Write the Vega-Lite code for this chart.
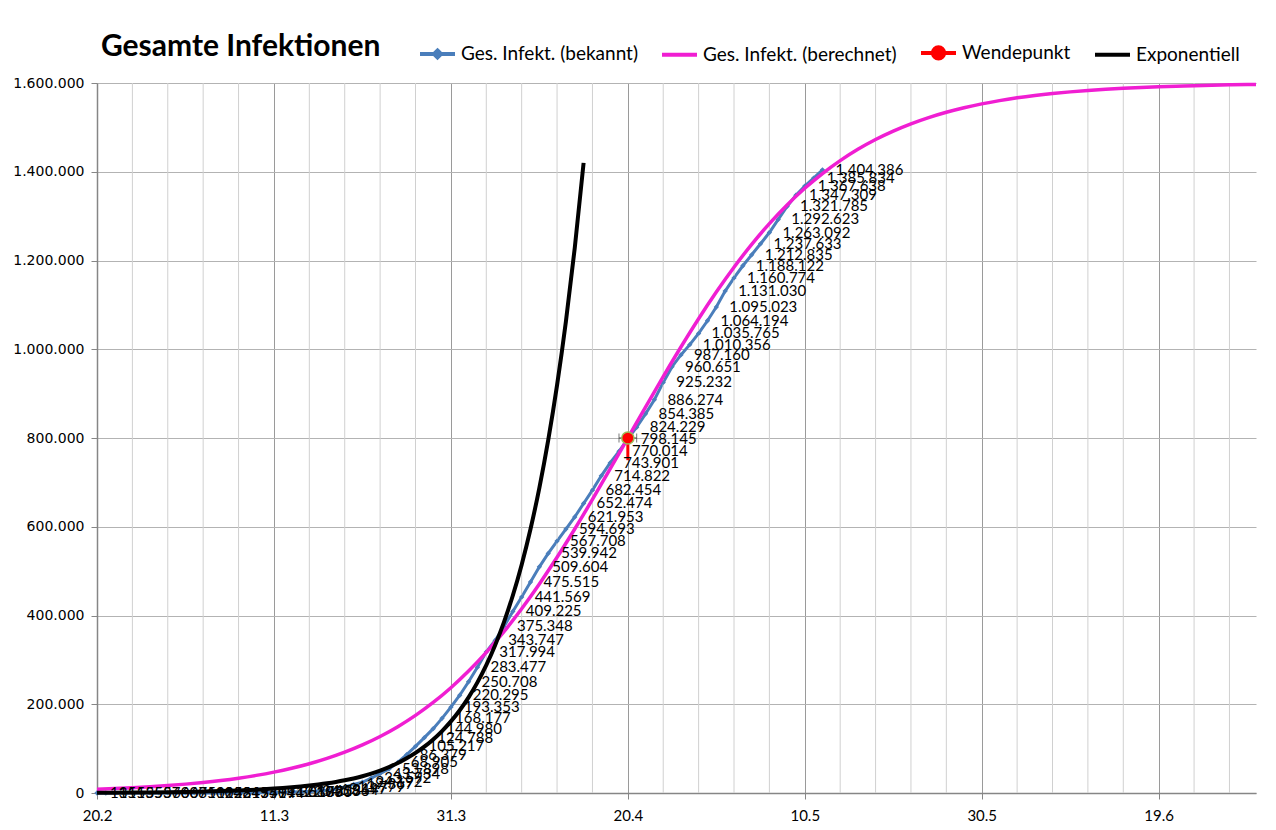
{
  "$schema": "https://vega.github.io/schema/vega-lite/v6.json",
  "width": 1159,
  "height": 710,
  "autosize": {"type": "none"},
  "padding": {"left": 97, "top": 83, "right": 20, "bottom": 37},
  "background": "white",
  "config": {
    "locale": {"number": {"decimal": ",", "thousands": ".", "grouping": [3], "currency": ["", " €"]}},
    "view": {"stroke": null},
    "font": "Lato"
  },
  "title": {"text": "Gesamte Infektionen", "anchor": "start", "frame": "group", "font": "Lato", "fontSize": 30, "fontWeight": "bold", "color": "#000000", "dx": 4, "offset": -29},
  "resolve": {"axis": {"x": "independent"}},
  "datasets": {
    "minorgrid": [
      {"date": "2020-02-24"}, {"date": "2020-02-28"}, {"date": "2020-03-03"}, {"date": "2020-03-07"},
      {"date": "2020-03-15"}, {"date": "2020-03-19"}, {"date": "2020-03-23"}, {"date": "2020-03-27"},
      {"date": "2020-04-04"}, {"date": "2020-04-08"}, {"date": "2020-04-12"}, {"date": "2020-04-16"},
      {"date": "2020-04-24"}, {"date": "2020-04-28"}, {"date": "2020-05-02"}, {"date": "2020-05-06"},
      {"date": "2020-05-14"}, {"date": "2020-05-18"}, {"date": "2020-05-22"}, {"date": "2020-05-26"},
      {"date": "2020-06-03"}, {"date": "2020-06-07"}, {"date": "2020-06-11"}, {"date": "2020-06-15"},
      {"date": "2020-06-23"}, {"date": "2020-06-27"}
    ],
    "known": [
      {"date": "2020-02-20", "value": 13}, {"date": "2020-02-21", "value": 15}, {"date": "2020-02-22", "value": 15}, {"date": "2020-02-23", "value": 15},
      {"date": "2020-02-24", "value": 35}, {"date": "2020-02-25", "value": 53}, {"date": "2020-02-26", "value": 57}, {"date": "2020-02-27", "value": 60},
      {"date": "2020-02-28", "value": 60}, {"date": "2020-02-29", "value": 68}, {"date": "2020-03-01", "value": 75}, {"date": "2020-03-02", "value": 100},
      {"date": "2020-03-03", "value": 124}, {"date": "2020-03-04", "value": 158}, {"date": "2020-03-05", "value": 221}, {"date": "2020-03-06", "value": 319},
      {"date": "2020-03-07", "value": 435}, {"date": "2020-03-08", "value": 541}, {"date": "2020-03-09", "value": 704}, {"date": "2020-03-10", "value": 994},
      {"date": "2020-03-11", "value": 1301}, {"date": "2020-03-12", "value": 1630}, {"date": "2020-03-13", "value": 2183}, {"date": "2020-03-14", "value": 2770},
      {"date": "2020-03-15", "value": 3613}, {"date": "2020-03-16", "value": 4596}, {"date": "2020-03-17", "value": 6344}, {"date": "2020-03-18", "value": 9197},
      {"date": "2020-03-19", "value": 13779}, {"date": "2020-03-20", "value": 19367}, {"date": "2020-03-21", "value": 24192}, {"date": "2020-03-22", "value": 33592},
      {"date": "2020-03-23", "value": 43734}, {"date": "2020-03-24", "value": 53898}, {"date": "2020-03-25", "value": 68905}, {"date": "2020-03-26", "value": 86379},
      {"date": "2020-03-27", "value": 105217}, {"date": "2020-03-28", "value": 124788}, {"date": "2020-03-29", "value": 144980}, {"date": "2020-03-30", "value": 168177},
      {"date": "2020-03-31", "value": 193353}, {"date": "2020-04-01", "value": 220295}, {"date": "2020-04-02", "value": 250708}, {"date": "2020-04-03", "value": 283477},
      {"date": "2020-04-04", "value": 317994}, {"date": "2020-04-05", "value": 343747}, {"date": "2020-04-06", "value": 375348}, {"date": "2020-04-07", "value": 409225},
      {"date": "2020-04-08", "value": 441569}, {"date": "2020-04-09", "value": 475515}, {"date": "2020-04-10", "value": 509604}, {"date": "2020-04-11", "value": 539942},
      {"date": "2020-04-12", "value": 567708}, {"date": "2020-04-13", "value": 594693}, {"date": "2020-04-14", "value": 621953}, {"date": "2020-04-15", "value": 652474},
      {"date": "2020-04-16", "value": 682454}, {"date": "2020-04-17", "value": 714822}, {"date": "2020-04-18", "value": 743901}, {"date": "2020-04-19", "value": 770014},
      {"date": "2020-04-20", "value": 798145}, {"date": "2020-04-21", "value": 824229}, {"date": "2020-04-22", "value": 854385}, {"date": "2020-04-23", "value": 886274},
      {"date": "2020-04-24", "value": 925232}, {"date": "2020-04-25", "value": 960651}, {"date": "2020-04-26", "value": 987160}, {"date": "2020-04-27", "value": 1010356},
      {"date": "2020-04-28", "value": 1035765}, {"date": "2020-04-29", "value": 1064194}, {"date": "2020-04-30", "value": 1095023}, {"date": "2020-05-01", "value": 1131030},
      {"date": "2020-05-02", "value": 1160774}, {"date": "2020-05-03", "value": 1188122}, {"date": "2020-05-04", "value": 1212835}, {"date": "2020-05-05", "value": 1237633},
      {"date": "2020-05-06", "value": 1263092}, {"date": "2020-05-07", "value": 1292623}, {"date": "2020-05-08", "value": 1321785}, {"date": "2020-05-09", "value": 1347309},
      {"date": "2020-05-10", "value": 1367638}, {"date": "2020-05-11", "value": 1385834}, {"date": "2020-05-12", "value": 1404386}
    ],
    "calc": [
      {"date": "2020-02-20", "value": 8402}, {"date": "2020-02-22", "value": 9997}, {"date": "2020-02-24", "value": 11892}, {"date": "2020-02-26", "value": 14143},
      {"date": "2020-02-28", "value": 16816}, {"date": "2020-03-01", "value": 19988}, {"date": "2020-03-03", "value": 23749}, {"date": "2020-03-05", "value": 28206},
      {"date": "2020-03-07", "value": 33481}, {"date": "2020-03-09", "value": 39717}, {"date": "2020-03-11", "value": 47080}, {"date": "2020-03-13", "value": 55759},
      {"date": "2020-03-15", "value": 65971}, {"date": "2020-03-17", "value": 77958}, {"date": "2020-03-19", "value": 91991}, {"date": "2020-03-21", "value": 108372},
      {"date": "2020-03-23", "value": 127429}, {"date": "2020-03-25", "value": 149491}, {"date": "2020-03-27", "value": 174924}, {"date": "2020-03-29", "value": 204075},
      {"date": "2020-03-31", "value": 237275}, {"date": "2020-04-02", "value": 274813}, {"date": "2020-04-04", "value": 316904}, {"date": "2020-04-06", "value": 363682},
      {"date": "2020-04-08", "value": 415126}, {"date": "2020-04-10", "value": 471075}, {"date": "2020-04-12", "value": 531185}, {"date": "2020-04-14", "value": 594919},
      {"date": "2020-04-16", "value": 661567}, {"date": "2020-04-18", "value": 730257}, {"date": "2020-04-20", "value": 800000}, {"date": "2020-04-22", "value": 869743},
      {"date": "2020-04-24", "value": 938433}, {"date": "2020-04-26", "value": 1005081}, {"date": "2020-04-28", "value": 1068815}, {"date": "2020-04-30", "value": 1128925},
      {"date": "2020-05-02", "value": 1184874}, {"date": "2020-05-04", "value": 1236318}, {"date": "2020-05-06", "value": 1283096}, {"date": "2020-05-08", "value": 1325187},
      {"date": "2020-05-10", "value": 1362725}, {"date": "2020-05-12", "value": 1395925}, {"date": "2020-05-14", "value": 1425076}, {"date": "2020-05-16", "value": 1450509},
      {"date": "2020-05-18", "value": 1472571}, {"date": "2020-05-20", "value": 1491628}, {"date": "2020-05-22", "value": 1508009}, {"date": "2020-05-24", "value": 1522042},
      {"date": "2020-05-26", "value": 1534029}, {"date": "2020-05-28", "value": 1544241}, {"date": "2020-05-30", "value": 1552920}, {"date": "2020-06-01", "value": 1560283},
      {"date": "2020-06-03", "value": 1566519}, {"date": "2020-06-05", "value": 1571794}, {"date": "2020-06-07", "value": 1576251}, {"date": "2020-06-09", "value": 1580012},
      {"date": "2020-06-11", "value": 1583184}, {"date": "2020-06-13", "value": 1585857}, {"date": "2020-06-15", "value": 1588108}, {"date": "2020-06-17", "value": 1590003},
      {"date": "2020-06-19", "value": 1591598}, {"date": "2020-06-21", "value": 1592940}, {"date": "2020-06-23", "value": 1594068}, {"date": "2020-06-25", "value": 1595016},
      {"date": "2020-06-27", "value": 1595813}, {"date": "2020-06-29", "value": 1596483}, {"date": "2020-06-30", "value": 1596777}
    ],
    "expo": [
      {"date": "2020-02-20", "value": 600}, {"date": "2020-02-22", "value": 800}, {"date": "2020-02-24", "value": 1050}, {"date": "2020-02-26", "value": 1400},
      {"date": "2020-02-28", "value": 1850}, {"date": "2020-03-01", "value": 2450}, {"date": "2020-03-03", "value": 3250}, {"date": "2020-03-05", "value": 4300},
      {"date": "2020-03-07", "value": 5700}, {"date": "2020-03-09", "value": 7500}, {"date": "2020-03-11", "value": 9900}, {"date": "2020-03-12", "value": 11300},
      {"date": "2020-03-13", "value": 12900}, {"date": "2020-03-14", "value": 14700}, {"date": "2020-03-15", "value": 16800}, {"date": "2020-03-16", "value": 19200},
      {"date": "2020-03-17", "value": 21900}, {"date": "2020-03-18", "value": 25000}, {"date": "2020-03-19", "value": 28600}, {"date": "2020-03-20", "value": 32733},
      {"date": "2020-03-21", "value": 37840}, {"date": "2020-03-22", "value": 43745}, {"date": "2020-03-23", "value": 50571}, {"date": "2020-03-24", "value": 58462},
      {"date": "2020-03-25", "value": 67585}, {"date": "2020-03-26", "value": 78131}, {"date": "2020-03-27", "value": 90322}, {"date": "2020-03-28", "value": 104416},
      {"date": "2020-03-29", "value": 120709}, {"date": "2020-03-30", "value": 139545}, {"date": "2020-03-31", "value": 161320}, {"date": "2020-04-01", "value": 186492},
      {"date": "2020-04-02", "value": 215593}, {"date": "2020-04-03", "value": 249234}, {"date": "2020-04-04", "value": 288125}, {"date": "2020-04-05", "value": 333085},
      {"date": "2020-04-06", "value": 385060}, {"date": "2020-04-07", "value": 445145}, {"date": "2020-04-08", "value": 514606}, {"date": "2020-04-09", "value": 594905},
      {"date": "2020-04-10", "value": 687734}, {"date": "2020-04-11", "value": 795048}, {"date": "2020-04-12", "value": 919108}, {"date": "2020-04-13", "value": 1062527},
      {"date": "2020-04-14", "value": 1228328}, {"date": "2020-04-15", "value": 1420000}
    ],
    "wende": [
      {"date": "2020-04-20", "value": 800000, "date_lo": "2020-04-19", "date_hi": "2020-04-21", "value_lo": 750000}
    ]
  },
  "layer": [
    {
      "data": {"name": "known"},
      "mark": {"type": "line", "strokeWidth": 3, "interpolate": "linear"},
      "encoding": {
        "x": {
          "field": "date", "type": "temporal",
          "scale": {"type": "utc", "domain": [1582156800000, 1593475200000]},
          "axis": {
            "title": null,
            "orient": "bottom",
            "values": [1582156800000, 1583884800000, 1585612800000, 1587340800000, 1589068800000, 1590796800000, 1592524800000],
            "format": "%-d.%-m",
            "grid": true,
            "gridColor": "#9a9a9a",
            "gridWidth": 1,
            "ticks": true,
            "tickSize": 6,
            "tickColor": "#868686",
            "domainColor": "#868686",
            "domainWidth": 1.5,
            "labelFont": "Lato",
            "labelFontSize": 15,
            "labelColor": "#000000",
            "labelPadding": 9,
            "labelFlush": false,
            "labelOverlap": false
          }
        },
        "y": {
          "field": "value", "type": "quantitative",
          "scale": {"domain": [0, 1600000], "nice": false},
          "axis": {
            "title": null,
            "values": [0, 200000, 400000, 600000, 800000, 1000000, 1200000, 1400000, 1600000],
            "format": ",.0f",
            "grid": true,
            "gridColor": "#b3b3b3",
            "tickSize": 6,
            "tickColor": "#868686",
            "domainColor": "#868686",
            "domainWidth": 1.5,
            "labelFont": "DejaVu Sans",
            "labelFontSize": 14,
            "labelColor": "#000000",
            "labelPadding": 7
          }
        },
        "color": {
          "datum": "Ges. Infekt. (bekannt)",
          "type": "nominal",
          "scale": {
            "domain": ["Ges. Infekt. (bekannt)", "Ges. Infekt. (berechnet)", "Wendepunkt", "Exponentiell"],
            "range": ["#4a7ebb", "#f01ed2", "#ff0000", "#000000"]
          },
          "legend": {
            "orient": "none", "legendX": 321, "legendY": -50, "direction": "horizontal", "title": null,
            "symbolType": "stroke", "symbolSize": 1225, "symbolStrokeWidth": 4,
            "labelFont": "Lato", "labelFontSize": 19, "labelColor": "#000000", "labelOffset": 4, "labelLimit": 400,
            "columnPadding": 16,
            "encode": {
              "symbols": {
                "update": {
                  "shape": {"signal": "datum.value === 'Ges. Infekt. (bekannt)' ? 'M-1,0H1M0,-0.2L0.2,0L0,0.2L-0.2,0Z' : datum.value === 'Wendepunkt' ? 'M-1,0H-0.32M0.32,0H1M-0.32,0A0.32,0.32 0 1,0 0.32,0A0.32,0.32 0 1,0 -0.32,0Z' : 'stroke'"},
                  "fill": {"signal": "datum.value === 'Ges. Infekt. (bekannt)' ? '#4a7ebb' : datum.value === 'Wendepunkt' ? '#ff0000' : 'transparent'"}
                }
              }
            }
          }
        }
      }
    },
    {
      "data": {"name": "minorgrid"},
      "mark": {"type": "rule", "color": "#d0d0d0", "strokeWidth": 1},
      "encoding": {
        "x": {"field": "date", "type": "temporal", "axis": null}
      }
    },
    {
      "data": {"name": "known"},
      "mark": {"type": "point", "shape": "diamond", "filled": true, "size": 28, "color": "#4a7ebb", "opacity": 1},
      "encoding": {
        "x": {"field": "date", "type": "temporal", "axis": null},
        "y": {"field": "value", "type": "quantitative"}
      }
    },
    {
      "data": {"name": "calc"},
      "mark": {"type": "line", "strokeWidth": 3.5, "interpolate": "monotone"},
      "encoding": {
        "x": {"field": "date", "type": "temporal", "axis": null},
        "y": {"field": "value", "type": "quantitative"},
        "color": {"datum": "Ges. Infekt. (berechnet)", "type": "nominal"}
      }
    },
    {
      "data": {"name": "wende"},
      "mark": {"type": "rule", "color": "#ff0000", "strokeWidth": 3},
      "encoding": {
        "x": {"field": "date", "type": "temporal", "axis": null},
        "y": {"field": "value", "type": "quantitative"},
        "y2": {"field": "value_lo"}
      }
    },
    {
      "data": {"name": "wende"},
      "mark": {"type": "rule", "color": "#404040", "strokeWidth": 1},
      "encoding": {
        "x": {"field": "date_lo", "type": "temporal", "axis": null},
        "x2": {"field": "date_hi"},
        "y": {"field": "value", "type": "quantitative"}
      }
    },
    {
      "data": {"name": "wende"},
      "mark": {"type": "tick", "orient": "vertical", "color": "#404040", "thickness": 1, "size": 9},
      "encoding": {
        "x": {"field": "date_lo", "type": "temporal", "axis": null},
        "y": {"field": "value", "type": "quantitative"}
      }
    },
    {
      "data": {"name": "wende"},
      "mark": {"type": "tick", "orient": "vertical", "color": "#404040", "thickness": 1, "size": 9},
      "encoding": {
        "x": {"field": "date_hi", "type": "temporal", "axis": null},
        "y": {"field": "value", "type": "quantitative"}
      }
    },
    {
      "data": {"name": "wende"},
      "mark": {"type": "point", "shape": "circle", "filled": true, "size": 150, "stroke": "#9bbb59", "strokeWidth": 1.5, "opacity": 1},
      "encoding": {
        "x": {"field": "date", "type": "temporal", "axis": null},
        "y": {"field": "value", "type": "quantitative"},
        "color": {"datum": "Wendepunkt", "type": "nominal"}
      }
    },
    {
      "data": {"name": "expo"},
      "mark": {"type": "line", "strokeWidth": 4, "interpolate": "monotone"},
      "encoding": {
        "x": {"field": "date", "type": "temporal", "axis": null},
        "y": {"field": "value", "type": "quantitative"},
        "color": {"datum": "Exponentiell", "type": "nominal"}
      }
    },
    {
      "data": {"name": "known"},
      "mark": {"type": "text", "align": "left", "baseline": "middle", "dx": 13, "font": "Lato", "fontSize": 15, "color": "#000000"},
      "encoding": {
        "x": {"field": "date", "type": "temporal", "axis": null},
        "y": {"field": "value", "type": "quantitative"},
        "text": {"field": "value", "type": "quantitative", "format": ","}
      }
    }
  ]
}
